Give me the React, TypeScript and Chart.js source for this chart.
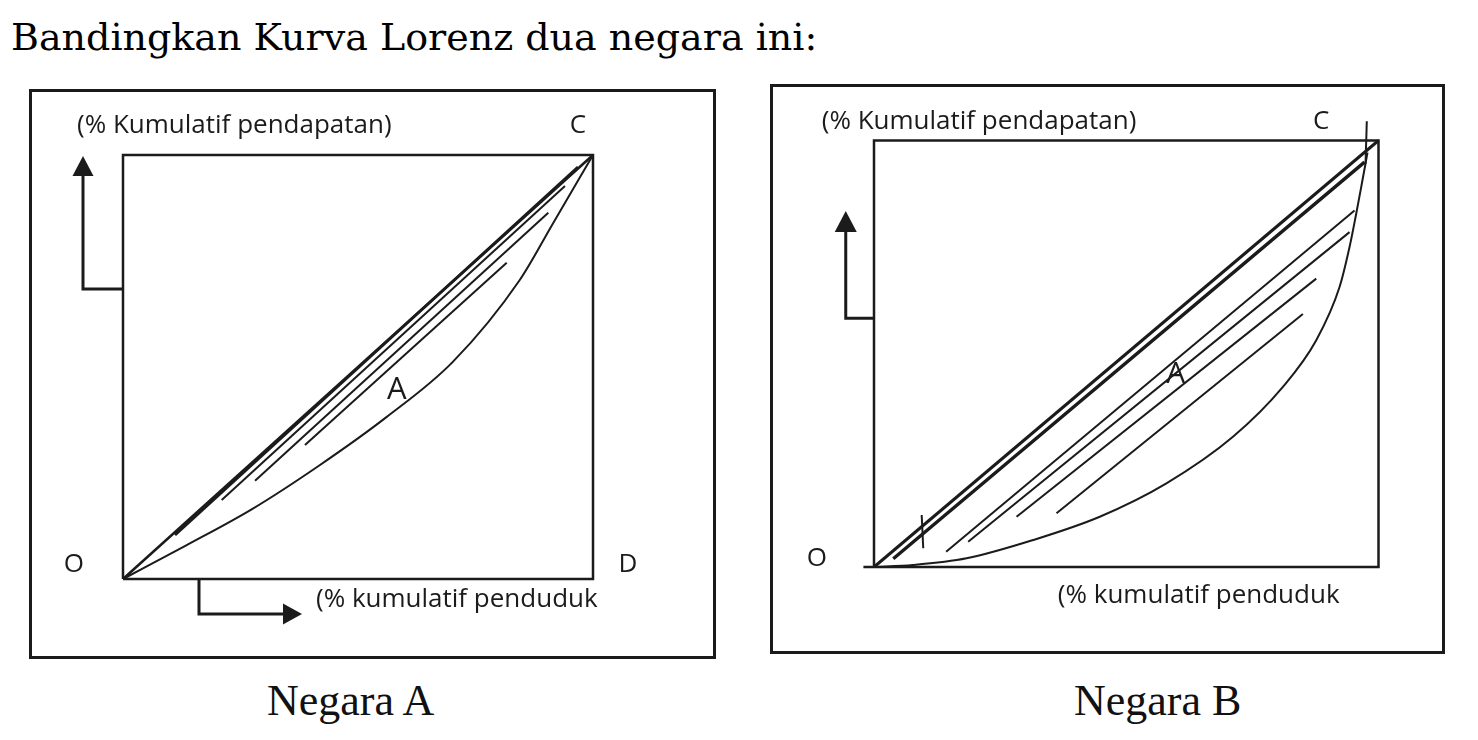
import React, { useEffect, useRef } from "react";
import { Chart, registerables } from "chart.js";

Chart.register(...registerables);

type Pt = { x: number; y: number };

// ---------- Negara A (values in % of the inner square) ----------
const frameAx = [0, 100, 100, 0, 0];
const frameAy = [0, 0, 100, 100, 0];
const equalityAx = [0, 100];
const equalityAy = [0, 100];
const lorenzAx = [0, 13.36, 27.55, 41.76, 55.98, 70.17, 84.38, 91.48, 100];
const lorenzAy = [0, 7.87, 16.54, 26.77, 38.11, 51.2, 70.47, 83.87, 100];
// hatch segments: [x1, y1, x2, y2]
const hatchA = [
  [11.06, 10.38, 96.81, 97.17],
  [21.0, 18.63, 94.04, 92.69],
  [28.09, 23.18, 90.49, 86.39],
  [38.72, 31.6, 81.64, 74.6],
];
const arrowUpAx = [0, -8.51, -8.51];
const arrowUpAy = [68.4, 68.4, 95.05];
const arrowRightAx = [16.17, 16.17, 34.04];
const arrowRightAy = [0, -8.25, -8.25];

// ---------- Negara B ----------
const frameBx = [-2.1, 100, 100, 0, 0];
const frameBy = [0, 0, 100, 100, 0];
const equalityBx = [0, 100];
const equalityBy = [0, 100];
const secondLineB = [3.82, 1.94, 97.23, 94.94];
const lorenzBx = [0, 7.72, 18.36, 31.54, 44.75, 57.96, 71.15, 81.05, 87.66, 92.28, 94.26, 95.58, 96.63, 97.43, 97.82];
const lorenzBy = [0, 0.47, 2.04, 6.32, 11.78, 19.6, 30.52, 42.22, 53.16, 65.64, 75.01, 82.83, 89.46, 94.61, 97.19];
const hatchB = [
  [14.3, 3.58, 95.25, 83.61],
  [18.67, 5.93, 94.26, 78.52],
  [28.26, 11.78, 87.66, 67.61],
  [36.18, 12.58, 85.01, 59.32],
];
const tickMarksB = [
  [9.45, 12.18, 9.76, 4.38],
  [97.68, 104.5, 97.43, 94.54],
];
const arrowUpBx = [0, -5.6, -5.6];
const arrowUpBy = [58.31, 58.31, 78.52];

// ---------- texts ----------
const titleText = "Bandingkan Kurva Lorenz dua negara ini:";
const yAxisLabel = "(% Kumulatif pendapatan)";
const xAxisLabel = "(% kumulatif penduduk";
const captionA = "Negara A";
const captionB = "Negara B";

const INK = "#1b1b1b";
const LABEL_FONT = "26px 'Open Sans'";

const zip = (xs: number[], ys: number[]): Pt[] => xs.map((x, i) => ({ x, y: ys[i] }));
const seg = (s: number[]): Pt[] => [
  { x: s[0], y: s[1] },
  { x: s[2], y: s[3] },
];

const lineDs = (data: Pt[], width: number, extra: any = {}) => ({
  data,
  borderColor: INK,
  backgroundColor: INK,
  borderWidth: width,
  pointRadius: 0,
  fill: false,
  clip: false,
  tension: 0,
  borderCapStyle: "butt",
  borderJoinStyle: "miter",
  ...extra,
});

const arrowDs = (data: Pt[], length: number, half: number) =>
  lineDs(data, 3, { arrowHead: { length, half } });

type Label = { text: string; x: number; y: number; align: CanvasTextAlign; font: string };

const labelsA: Label[] = [
  { text: yAxisLabel, x: -9.79, y: 105.19, align: "left", font: LABEL_FONT },
  { text: "C", x: 96.81, y: 105.19, align: "center", font: LABEL_FONT },
  { text: "O", x: -10.43, y: 1.65, align: "center", font: LABEL_FONT },
  { text: "D", x: 107.45, y: 1.65, align: "center", font: LABEL_FONT },
  { text: xAxisLabel, x: 41.06, y: -6.6, align: "left", font: LABEL_FONT },
  { text: "A", x: 58.23, y: 42.45, align: "center", font: "31px 'Open Sans'" },
];

const labelsB: Label[] = [
  { text: yAxisLabel, x: -10.36, y: 102.74, align: "left", font: LABEL_FONT },
  { text: "C", x: 88.65, y: 102.58, align: "center", font: LABEL_FONT },
  { text: "O", x: -11.35, y: 0.23, align: "center", font: LABEL_FONT },
  { text: xAxisLabel, x: 36.44, y: -8.43, align: "left", font: LABEL_FONT },
  { text: "A", x: 59.8, y: 43.09, align: "center", font: "30px 'Open Sans'" },
];

const labelPlugin = (labels: Label[]) => ({
  id: "textLabels",
  afterDatasetsDraw(chart: any) {
    const { ctx } = chart;
    const xs = chart.scales.x;
    const ys = chart.scales.y;
    ctx.save();
    ctx.fillStyle = INK;
    ctx.textBaseline = "alphabetic";
    for (const l of labels) {
      ctx.font = l.font;
      ctx.textAlign = l.align;
      ctx.fillText(l.text, xs.getPixelForValue(l.x), ys.getPixelForValue(l.y));
    }
    ctx.restore();
  },
});

// draws a filled arrow head beyond the last point of datasets that carry `arrowHead`
const arrowPlugin = {
  id: "arrowHeads",
  afterDatasetsDraw(chart: any) {
    const ctx = chart.ctx;
    chart.data.datasets.forEach((ds: any, i: number) => {
      if (!ds.arrowHead) return;
      const pts = chart.getDatasetMeta(i).data;
      if (pts.length < 2) return;
      const a = pts[pts.length - 2];
      const b = pts[pts.length - 1];
      const ang = Math.atan2(b.y - a.y, b.x - a.x);
      const { length, half } = ds.arrowHead;
      const nx = Math.cos(ang + Math.PI / 2);
      const ny = Math.sin(ang + Math.PI / 2);
      ctx.save();
      ctx.fillStyle = INK;
      ctx.beginPath();
      ctx.moveTo(b.x + Math.cos(ang) * length, b.y + Math.sin(ang) * length);
      ctx.lineTo(b.x + nx * half, b.y + ny * half);
      ctx.lineTo(b.x - nx * half, b.y - ny * half);
      ctx.closePath();
      ctx.fill();
      ctx.restore();
    });
  },
};

const datasetsA = () => [
  lineDs(zip(frameAx, frameAy), 2.5),
  lineDs(zip(equalityAx, equalityAy), 2.5),
  lineDs(seg(hatchA[0]), 3),
  ...hatchA.slice(1).map((h) => lineDs(seg(h), 2)),
  lineDs(zip(lorenzAx, lorenzAy), 2, { cubicInterpolationMode: "monotone" }),
  arrowDs(zip(arrowUpAx, arrowUpAy), 20, 10.5),
  arrowDs(zip(arrowRightAx, arrowRightAy), 19, 10.5),
];

const datasetsB = () => [
  lineDs(zip(frameBx, frameBy), 2.5),
  lineDs(zip(equalityBx, equalityBy), 3),
  lineDs(seg(secondLineB), 3.4),
  ...hatchB.map((h) => lineDs(seg(h), 2)),
  ...tickMarksB.map((t) => lineDs(seg(t), 2)),
  lineDs(zip(lorenzBx, lorenzBy), 2, { cubicInterpolationMode: "monotone" }),
  arrowDs(zip(arrowUpBx, arrowUpBy), 21, 11),
];

type PanelProps = {
  left: number;
  top: number;
  width: number;
  height: number;
  padding: { left: number; top: number; right: number; bottom: number };
  makeDatasets: () => any[];
  labels: Label[];
};

function Panel({ left, top, width, height, padding, makeDatasets, labels }: PanelProps) {
  const ref = useRef<HTMLCanvasElement | null>(null);
  useEffect(() => {
    let chart: Chart | null = null;
    let cancelled = false;
    const build = () => {
      if (cancelled || !ref.current) return;
      chart = new Chart(ref.current, {
        type: "line",
        data: { datasets: makeDatasets() },
        options: {
          animation: false,
          responsive: false,
          events: [],
          layout: { padding },
          plugins: { legend: { display: false }, tooltip: { enabled: false } },
          scales: {
            x: { type: "linear", min: 0, max: 100, display: false },
            y: { type: "linear", min: 0, max: 100, display: false },
          },
        } as any,
        plugins: [labelPlugin(labels) as any, arrowPlugin as any],
      });
    };
    const fonts: any = (document as any).fonts;
    if (fonts && fonts.load) {
      Promise.all([fonts.load("26px 'Open Sans'", "A")]).then(build, build);
    } else build();
    return () => {
      cancelled = true;
      if (chart) chart.destroy();
    };
  }, []);
  return (
    <>
      <canvas
        ref={ref}
        width={width}
        height={height}
        style={{ position: "absolute", left, top, width, height }}
      />
      <div
        style={{
          position: "absolute",
          left,
          top,
          width,
          height,
          boxSizing: "border-box",
          border: `3px solid ${INK}`,
          pointerEvents: "none",
        }}
      />
    </>
  );
}

export default function App() {
  return (
    <div
      style={{
        position: "fixed",
        left: 0,
        top: 0,
        width: 1478,
        height: 740,
        background: "#ffffff",
        overflow: "hidden",
      }}
    >
      <div
        style={{
          position: "absolute",
          left: 11,
          top: 18,
          fontFamily: "'DejaVu Serif'",
          fontSize: 38,
          lineHeight: "38px",
          color: "#000",
          whiteSpace: "nowrap",
        }}
      >
        {titleText}
      </div>
      <Panel
        left={29}
        top={89}
        width={687}
        height={570}
        padding={{ left: 94, top: 66, right: 123, bottom: 80 }}
        makeDatasets={datasetsA}
        labels={labelsA}
      />
      <Panel
        left={770}
        top={84}
        width={675}
        height={570}
        padding={{ left: 104, top: 56.5, right: 66.5, bottom: 87 }}
        makeDatasets={datasetsB}
        labels={labelsB}
      />
      <div
        style={{
          position: "absolute",
          left: 267,
          top: 679,
          fontFamily: "'Liberation Serif'",
          fontSize: 44,
          lineHeight: "44px",
          color: "#111",
          whiteSpace: "nowrap",
        }}
      >
        {captionA}
      </div>
      <div
        style={{
          position: "absolute",
          left: 1074,
          top: 679,
          fontFamily: "'Liberation Serif'",
          fontSize: 44,
          lineHeight: "44px",
          color: "#111",
          whiteSpace: "nowrap",
        }}
      >
        {captionB}
      </div>
    </div>
  );
}
